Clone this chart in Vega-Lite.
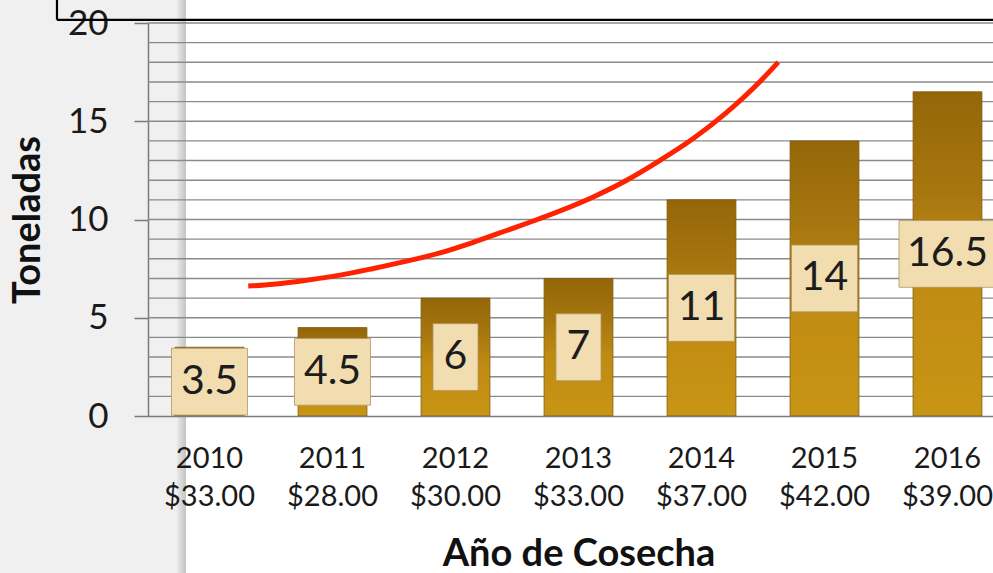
{
  "$schema": "https://vega.github.io/schema/vega-lite/v6.json",
  "width": 861,
  "height": 393,
  "autosize": "none",
  "padding": {"left": 148, "top": 23, "right": 0, "bottom": 157},
  "background": "#f0f0f0",
  "config": {
    "font": "Lato",
    "view": {"stroke": null},
    "axis": {"labelColor": "#1a1a1a", "titleColor": "#111111", "labelFont": "Lato", "titleFont": "Lato"},
    "axisY": {
      "zindex": 1,
      "grid": false,
      "tickSize": 14,
      "tickColor": "#7a7a7a",
      "tickWidth": 1.5,
      "domainColor": "#7a7a7a",
      "domainWidth": 1.5,
      "labelFontSize": 35,
      "labelPadding": 26,
      "titleFontSize": 38,
      "titleFontWeight": "bold",
      "titlePadding": 20
    }
  },
  "datasets": {
    "main": [
      {"year": "2010", "price": "$33.00", "toneladas": 3.5},
      {"year": "2011", "price": "$28.00", "toneladas": 4.5},
      {"year": "2012", "price": "$30.00", "toneladas": 6},
      {"year": "2013", "price": "$33.00", "toneladas": 7},
      {"year": "2014", "price": "$37.00", "toneladas": 11},
      {"year": "2015", "price": "$42.00", "toneladas": 14},
      {"year": "2016", "price": "$39.00", "toneladas": 16.5}
    ],
    "curve": [
      {"pos": 0.815, "t": 6.61},
      {"pos": 1.019, "t": 6.71},
      {"pos": 1.290, "t": 6.91},
      {"pos": 1.561, "t": 7.17},
      {"pos": 1.832, "t": 7.51},
      {"pos": 2.103, "t": 7.88},
      {"pos": 2.374, "t": 8.30},
      {"pos": 2.645, "t": 8.84},
      {"pos": 2.916, "t": 9.44},
      {"pos": 3.187, "t": 10.05},
      {"pos": 3.620, "t": 11.15},
      {"pos": 3.892, "t": 12.00},
      {"pos": 4.163, "t": 13.01},
      {"pos": 4.433, "t": 14.12},
      {"pos": 4.705, "t": 15.45},
      {"pos": 4.976, "t": 17.02},
      {"pos": 5.124, "t": 18.01}
    ],
    "grid": [
      {"g": 1}, {"g": 2}, {"g": 3}, {"g": 4}, {"g": 5}, {"g": 6}, {"g": 7}, {"g": 8}, {"g": 9}, {"g": 10},
      {"g": 11}, {"g": 12}, {"g": 13}, {"g": 14}, {"g": 15}, {"g": 16}, {"g": 17}, {"g": 18}, {"g": 19}, {"g": 20}
    ]
  },
  "resolve": {"scale": {"x": "independent"}, "axis": {"x": "independent"}},
  "layer": [
    {
      "data": {"values": [{}]},
      "mark": {"type": "rect", "fill": "#ffffff"},
      "encoding": {
        "x": {"datum": 0.309, "type": "quantitative", "scale": {"domain": [0, 7], "nice": false, "zero": false}, "axis": null},
        "x2": {"datum": 7.6},
        "y": {"datum": -8.2, "type": "quantitative", "scale": {"domain": [0, 20], "nice": false}, "axis": {"title": "Toneladas", "values": [0, 5, 10, 15, 20]}},
        "y2": {"datum": 21.3}
      }
    },
    {
      "data": {"values": [{}]},
      "mark": {"type": "rect", "fill": {"gradient": "linear", "x1": 0, "y1": 0, "x2": 1, "y2": 0, "stops": [{"offset": 0, "color": "#e9e9e9"}, {"offset": 1, "color": "#c4c3c0"}]}},
      "encoding": {
        "x": {"datum": 0.236, "type": "quantitative", "scale": {"domain": [0, 7], "nice": false, "zero": false}, "axis": null},
        "x2": {"datum": 0.309},
        "y": {"datum": -8.2, "type": "quantitative", "scale": {"domain": [0, 20], "nice": false}, "axis": {"title": "Toneladas", "values": [0, 5, 10, 15, 20]}},
        "y2": {"datum": 21.3}
      }
    },
    {
      "data": {"name": "grid"},
      "mark": {"type": "rule", "color": "#8a8a8a", "strokeWidth": 1.4},
      "encoding": {
        "y": {"field": "g", "type": "quantitative", "scale": {"domain": [0, 20], "nice": false}, "axis": {"title": "Toneladas", "values": [0, 5, 10, 15, 20]}}
      }
    },
    {
      "data": {"name": "main"},
      "transform": [{"calculate": "datum.year + '|' + datum.price", "as": "cat"}],
      "mark": {
        "type": "bar",
        "stroke": "#7d5c12",
        "strokeWidth": 0.8,
        "fill": {"gradient": "linear", "x1": 0, "y1": 0, "x2": 0, "y2": 1, "stops": [
          {"offset": 0, "color": "#956608"},
          {"offset": 0.3, "color": "#a6760f"},
          {"offset": 0.55, "color": "#bf8a12"},
          {"offset": 1, "color": "#c99514"}
        ]}
      },
      "encoding": {
        "x": {
          "field": "cat", "type": "nominal", "sort": null,
          "scale": {"paddingInner": 0.44, "paddingOuter": 0.22},
          "axis": {
            "zindex": 1,
            "orient": "bottom",
            "title": "Año de Cosecha",
            "labelExpr": "split(datum.value, '|')",
            "labelAngle": 0,
            "labelFontSize": 29,
            "labelLineHeight": 38,
            "labelBaseline": "top",
            "labelPadding": 28,
            "ticks": false,
            "domainColor": "#7a7a7a",
            "domainWidth": 1.5,
            "titleFontSize": 38,
            "titleFontWeight": "bold",
            "titlePadding": 24
          }
        },
        "y": {
          "field": "toneladas", "type": "quantitative",
          "scale": {"domain": [0, 20], "nice": false},
          "axis": {"title": "Toneladas", "values": [0, 5, 10, 15, 20]}
        }
      }
    },
    {
      "data": {"name": "main"},
      "transform": [
        {"calculate": "datum.year + '|' + datum.price", "as": "cat"},
        {"calculate": "toString(datum.toneladas)", "as": "label"},
        {"calculate": "datum.toneladas / 2 - 1.7", "as": "lo"},
        {"calculate": "datum.toneladas / 2 + 1.7", "as": "hi"},
        {"calculate": "length(replace(datum.label, '.', '')) * 21 + (indexof(datum.label, '.') >= 0 ? 10 : 0) + 24", "as": "bw"}
      ],
      "mark": {"type": "bar", "fill": "#f2ddb0", "stroke": "#b39463", "strokeWidth": 0.8},
      "encoding": {
        "x": {"field": "cat", "type": "nominal", "sort": null, "scale": {"paddingInner": 0.44, "paddingOuter": 0.22}, "axis": null},
        "y": {"field": "lo", "type": "quantitative", "scale": {"domain": [0, 20], "nice": false}, "axis": {"title": "Toneladas", "values": [0, 5, 10, 15, 20]}},
        "y2": {"field": "hi"},
        "size": {"field": "bw", "type": "quantitative", "scale": null, "legend": null}
      }
    },
    {
      "data": {"name": "main"},
      "transform": [
        {"calculate": "datum.year + '|' + datum.price", "as": "cat"},
        {"calculate": "toString(datum.toneladas)", "as": "label"},
        {"calculate": "datum.toneladas / 2", "as": "mid"}
      ],
      "mark": {"type": "text", "font": "Lato", "fontSize": 41, "color": "#1c1c1c", "baseline": "middle", "align": "center"},
      "encoding": {
        "x": {"field": "cat", "type": "nominal", "sort": null, "scale": {"paddingInner": 0.44, "paddingOuter": 0.22}, "axis": null},
        "y": {"field": "mid", "type": "quantitative", "scale": {"domain": [0, 20], "nice": false}, "axis": {"title": "Toneladas", "values": [0, 5, 10, 15, 20]}},
        "text": {"field": "label", "type": "nominal"}
      }
    },
    {
      "data": {"name": "curve"},
      "mark": {"type": "line", "color": "#ff2200", "strokeWidth": 5, "interpolate": "monotone"},
      "encoding": {
        "x": {"field": "pos", "type": "quantitative", "scale": {"domain": [0, 7], "nice": false, "zero": false}, "axis": null},
        "y": {"field": "t", "type": "quantitative", "scale": {"domain": [0, 20], "nice": false}, "axis": {"title": "Toneladas", "values": [0, 5, 10, 15, 20]}}
      }
    },
    {
      "data": {"values": [{}]},
      "mark": {"type": "rule", "color": "#000000", "strokeWidth": 2.2},
      "encoding": {
        "x": {"datum": -0.74, "type": "quantitative", "scale": {"domain": [0, 7], "nice": false, "zero": false}, "axis": null},
        "x2": {"datum": 7.6},
        "y": {"datum": 20.16, "type": "quantitative", "scale": {"domain": [0, 20], "nice": false}, "axis": {"title": "Toneladas", "values": [0, 5, 10, 15, 20]}}
      }
    },
    {
      "data": {"values": [{}]},
      "mark": {"type": "rule", "color": "#000000", "strokeWidth": 2.2},
      "encoding": {
        "x": {"datum": -0.74, "type": "quantitative", "scale": {"domain": [0, 7], "nice": false, "zero": false}, "axis": null},
        "y": {"datum": 20.16, "type": "quantitative", "scale": {"domain": [0, 20], "nice": false}, "axis": {"title": "Toneladas", "values": [0, 5, 10, 15, 20]}},
        "y2": {"datum": 21.2}
      }
    }
  ]
}
